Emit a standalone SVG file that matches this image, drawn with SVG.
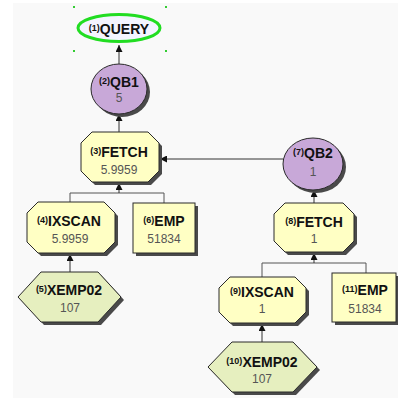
<svg xmlns="http://www.w3.org/2000/svg" width="398" height="398" viewBox="0 0 398 398">
  <style>
    .shadow { fill: #4a4a4a; stroke: none; }
    .op { fill: #ffffc4; stroke: #2a2a2a; stroke-width: 1; }
    .idx { fill: #e6efbf; stroke: #2a2a2a; stroke-width: 1; }
    .qb { fill: #c8a8d8; stroke: #2a2a2a; stroke-width: 1; }
    .query { fill: #f4f4ff; stroke: #22dd22; stroke-width: 3; }
    .handle { fill: #33cc33; }
    .lbl { font-family: "Liberation Sans", Arial, sans-serif; font-weight: bold; font-size: 14px; fill: #111; text-anchor: middle; }
    .sup { font-size: 9px; }
    .val { font-family: "Liberation Sans", Arial, sans-serif; font-size: 12px; fill: #555; text-anchor: middle; }
    .wire { fill: none; stroke: #555; stroke-width: 1; }
    .edge { fill: none; stroke: #333; stroke-width: 1; }
  </style>
  <defs>
    <marker id="arrow" viewBox="0 0 8 8" refX="8" refY="4" markerWidth="7" markerHeight="7" orient="auto" markerUnits="userSpaceOnUse">
      <path d="M0,0 L8,4 L0,8 Z" fill="#111"/>
    </marker>
  </defs>

  <!-- canvas -->
  <rect x="0" y="0" width="398" height="398" fill="#ffffff"/>
  <rect x="13" y="3" width="385" height="395" fill="#f9f9f9"/>

  <!-- connectors -->
  <g id="connectors">
    <line class="edge" x1="119" y1="64" x2="119" y2="45" marker-end="url(#arrow)"/>
    <line class="edge" x1="119" y1="132" x2="119" y2="114" marker-end="url(#arrow)"/>
    <line class="edge" x1="283" y1="159" x2="160" y2="159" marker-end="url(#arrow)"/>
    <line class="edge" x1="314" y1="203" x2="314" y2="190" marker-end="url(#arrow)"/>
    <!-- FETCH(3) inputs -->
    <polyline class="wire" points="70,202 70,193 164,193 164,203"/>
    <line class="edge" x1="119" y1="193" x2="119" y2="183" marker-end="url(#arrow)"/>
    <line class="edge" x1="70" y1="272" x2="70" y2="254" marker-end="url(#arrow)"/>
    <!-- FETCH(8) inputs -->
    <polyline class="wire" points="262,277 262,263 366,263 366,273"/>
    <line class="edge" x1="314" y1="263" x2="314" y2="253" marker-end="url(#arrow)"/>
    <line class="edge" x1="262" y1="342" x2="262" y2="324" marker-end="url(#arrow)"/>
  </g>

  <!-- (1) QUERY -->
  <g id="n1">
    <ellipse class="query" cx="119" cy="28" rx="41" ry="13.5"/>
    <rect class="handle" x="73" y="6" width="2" height="2"/>
    <rect class="handle" x="165" y="6" width="2" height="2"/>
    <rect class="handle" x="73" y="50" width="2" height="2"/>
    <rect class="handle" x="165" y="50" width="2" height="2"/>
    <text class="lbl" x="119" y="34"><tspan class="sup" dy="-3">(1)</tspan><tspan dy="3">QUERY</tspan></text>
  </g>

  <!-- (2) QB1 -->
  <g id="n2">
    <ellipse class="shadow" cx="122" cy="92" rx="28" ry="25"/>
    <ellipse class="qb" cx="119" cy="89" rx="28" ry="25"/>
    <text class="lbl" x="119" y="87"><tspan class="sup" dy="-3">(2)</tspan><tspan dy="3">QB1</tspan></text>
    <text class="val" x="119" y="102">5</text>
  </g>

  <!-- (3) FETCH -->
  <g id="n3">
    <polygon class="shadow" transform="translate(3,3)" points="92,132 148,132 159,143 159,171 148,182 92,182 81,171 81,143"/>
    <polygon class="op" points="92,132 148,132 159,143 159,171 148,182 92,182 81,171 81,143"/>
    <text class="lbl" x="119" y="157"><tspan class="sup" dy="-3">(3)</tspan><tspan dy="3">FETCH</tspan></text>
    <text class="val" x="119" y="174">5.9959</text>
  </g>

  <!-- (4) IXSCAN -->
  <g id="n4">
    <polygon class="shadow" transform="translate(3,3)" points="38,202 104,202 115,213 115,242 104,253 38,253 27,242 27,213"/>
    <polygon class="op" points="38,202 104,202 115,213 115,242 104,253 38,253 27,242 27,213"/>
    <text class="lbl" x="69" y="226"><tspan class="sup" dy="-3">(4)</tspan><tspan dy="3">IXSCAN</tspan></text>
    <text class="val" x="70" y="243">5.9959</text>
  </g>

  <!-- (5) XEMP02 -->
  <g id="n5">
    <polygon class="shadow" transform="translate(3,3)" points="18,297 41,272 98,272 121,297 98,322 41,322"/>
    <polygon class="idx" points="18,297 41,272 98,272 121,297 98,322 41,322"/>
    <text class="lbl" x="69" y="295"><tspan class="sup" dy="-3">(5)</tspan><tspan dy="3">XEMP02</tspan></text>
    <text class="val" x="70" y="312">107</text>
  </g>

  <!-- (6) EMP -->
  <g id="n6">
    <rect class="shadow" x="136" y="206" width="62" height="50"/>
    <rect class="op" x="133" y="203" width="62" height="50"/>
    <text class="lbl" x="164" y="226"><tspan class="sup" dy="-3">(6)</tspan><tspan dy="3">EMP</tspan></text>
    <text class="val" x="164" y="243">51834</text>
  </g>

  <!-- (7) QB2 -->
  <g id="n7">
    <ellipse class="shadow" cx="316" cy="167" rx="30" ry="26"/>
    <ellipse class="qb" cx="313" cy="164" rx="30" ry="26"/>
    <text class="lbl" x="313" y="158"><tspan class="sup" dy="-3">(7)</tspan><tspan dy="3">QB2</tspan></text>
    <text class="val" x="313" y="176">1</text>
  </g>

  <!-- (8) FETCH -->
  <g id="n8">
    <polygon class="shadow" transform="translate(3,3)" points="285,203 343,203 354,214 354,241 343,252 285,252 274,241 274,214"/>
    <polygon class="op" points="285,203 343,203 354,214 354,241 343,252 285,252 274,241 274,214"/>
    <text class="lbl" x="314" y="227"><tspan class="sup" dy="-3">(8)</tspan><tspan dy="3">FETCH</tspan></text>
    <text class="val" x="314" y="243">1</text>
  </g>

  <!-- (9) IXSCAN -->
  <g id="n9">
    <polygon class="shadow" transform="translate(3,3)" points="230,277 295,277 306,288 306,312 295,323 230,323 219,312 219,288"/>
    <polygon class="op" points="230,277 295,277 306,288 306,312 295,323 230,323 219,312 219,288"/>
    <text class="lbl" x="262" y="297"><tspan class="sup" dy="-3">(9)</tspan><tspan dy="3">IXSCAN</tspan></text>
    <text class="val" x="262" y="313">1</text>
  </g>

  <!-- (10) XEMP02 -->
  <g id="n10">
    <polygon class="shadow" transform="translate(3,3)" points="208,367 232,342 293,342 317,367 293,392 232,392"/>
    <polygon class="idx" points="208,367 232,342 293,342 317,367 293,392 232,392"/>
    <text class="lbl" x="262" y="367"><tspan class="sup" dy="-3">(10)</tspan><tspan dy="3">XEMP02</tspan></text>
    <text class="val" x="262" y="383">107</text>
  </g>

  <!-- (11) EMP -->
  <g id="n11">
    <rect class="shadow" x="335" y="276" width="64" height="49"/>
    <rect class="op" x="332" y="273" width="64" height="49"/>
    <text class="lbl" x="365" y="295"><tspan class="sup" dy="-3">(11)</tspan><tspan dy="3">EMP</tspan></text>
    <text class="val" x="365" y="313">51834</text>
  </g>
</svg>
